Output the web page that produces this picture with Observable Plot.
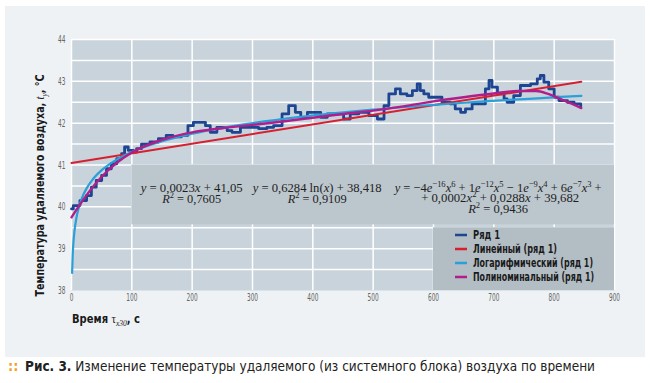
<!DOCTYPE html>
<html><head><meta charset="utf-8">
<script src="https://cdn.jsdelivr.net/npm/d3@7"></script>
<script src="https://cdn.jsdelivr.net/npm/@observablehq/plot@0.6"></script>
<style>
body{margin:0;background:#fff;width:650px;height:383px;overflow:hidden;font-family:"DejaVu Sans Condensed","DejaVu Sans",sans-serif;}
#card{position:absolute;left:5px;top:6px;width:640px;height:351px;background:#eef2f5;}
#chart{position:absolute;left:0;top:0;}
#caption{position:absolute;left:8px;top:357px;font-size:14.5px;line-height:18px;color:#222;white-space:nowrap;}
#caption .dots{color:#f0a328;font-weight:bold;margin-right:7px;}
#captext{display:inline-block;transform-origin:0 50%;}
</style></head><body>
<div id="card"></div><div id="chart"></div>
<div id="caption"><span class="dots">::</span><span id="captext"><b>Рис. 3.</b> Изменение температуры удаляемого (из системного блока) воздуха по времени</span></div>
<script>
// ---- data ----
const seriesX = [0,3,14,25,33,41,50,58,66,75,83,88,94,102,108,116,130,144,157,168,182,193,202,214,222,230,241,258,266,280,297,310,324,335,349,360,371,380,391,404,413,424,435,443,451,462,476,493,507,518,526,537,545,556,565,573,578,584,592,600,614,628,636,645,653,664,678,686,692,697,706,717,722,733,744,761,772,777,783,791,800,808,822,833,844];
const seriesY = [39.95,40.03,40.15,40.27,40.47,40.63,40.75,40.91,41.03,41.15,41.27,41.43,41.35,41.31,41.39,41.50,41.55,41.63,41.71,41.67,41.71,41.94,42.02,42.02,41.94,41.78,41.90,41.82,41.78,41.90,41.90,41.87,41.90,41.94,42.22,42.42,42.26,42.14,42.26,42.26,42.14,42.22,42.22,42.22,42.10,42.22,42.26,42.18,42.10,42.42,42.70,42.82,42.70,42.66,42.78,42.94,42.78,42.70,42.62,42.62,42.50,42.46,42.34,42.26,42.34,42.46,42.46,42.82,43.02,42.86,42.70,42.58,42.50,42.66,42.90,42.94,43.06,43.14,42.98,42.82,42.62,42.54,42.50,42.46,42.38];
const linX = [0,845];
const linY = [41.05,42.99];
const logX = [1,2,3,5,8,12,18,25,35,50,70,100,140,200,280,380,500,650,845];
const logY = [38.418,38.854,39.108,39.429,39.725,39.980,40.234,40.441,40.652,40.876,41.088,41.312,41.523,41.748,41.959,42.151,42.323,42.488,42.653];
const polyX = [0,10,25,50,75,100,150,200,250,300,350,400,450,500,550,600,650,700,740,770,790,810,830,845];
const polyY = [39.75,39.97,40.28,40.72,41.05,41.30,41.60,41.78,41.88,41.96,42.04,42.13,42.22,42.30,42.40,42.52,42.62,42.71,42.77,42.77,42.70,42.58,42.46,42.36];
const xTicks = [0,100,200,300,400,500,600,700,800,900];
const yTicks = [38,39,40,41,42,43,44];
const yGrid = [38.5,39,39.5,40,40.5,41,41.5,42,42.5,43,43.5,44];
const seriesNames = ["Ряд 1","Линейный (ряд 1)","Логарифмический (ряд 1)","Полиноминальный (ряд 1)"];
const seriesColors = ["#1d4592","#d81f2f","#2a9fd8","#b01e8c"];

const toPts = (xs, ys) => xs.map((x,i)=>({x, y: ys[i]}));
const FONT = '"DejaVu Sans Condensed","DejaVu Sans",sans-serif';
const SERIF = '"Liberation Serif","DejaVu Serif",serif';

const chart = Plot.plot({
  width: 650, height: 357,
  marginLeft: 71, marginRight: 36, marginTop: 39, marginBottom: 67,
  style: {background: "transparent", fontFamily: FONT, fontSize: "11px", color: "#666"},
  x: {domain: [0,900], ticks: xTicks, tickSize: 0, tickPadding: 3, label: null, tickFormat: d => String(d)},
  y: {domain: [38,44], ticks: yTicks, tickSize: 0, tickPadding: 6, label: null, tickFormat: d => String(d)},
  marks: [
    Plot.frame({fill: "#c8d3db", stroke: null}),
    Plot.gridX(xTicks, {stroke: "#fff", strokeOpacity: 1, strokeWidth: 1.5}),
    Plot.gridY(yGrid, {stroke: "#fff", strokeOpacity: 1, strokeWidth: 1.5}),
    Plot.rect([0], {x1: 100, x2: 900, y1: 39.57, y2: 41.0, fill: "#bcc6cd"}),
    Plot.rect([0], {x1: 600, x2: 900, y1: 38, y2: 39.5, fill: "#b3bdc4"}),
    Plot.line(toPts(seriesX, seriesY), {x: "x", y: "y", stroke: seriesColors[0], strokeWidth: 2.8, curve: "step-after"}),
    Plot.line(toPts(linX, linY), {x: "x", y: "y", stroke: seriesColors[1], strokeWidth: 2}),
    Plot.line(toPts(logX, logY), {x: "x", y: "y", stroke: seriesColors[2], strokeWidth: 2.2, curve: "monotone-x"}),
    Plot.line(toPts(polyX, polyY), {x: "x", y: "y", stroke: seriesColors[3], strokeWidth: 2.4, curve: "monotone-x"})
  ]
});
document.getElementById("chart").appendChild(chart);

const svg = d3.select(chart);
const sx = chart.scale("x"), sy = chart.scale("y");

// condense tick labels
svg.selectAll('[aria-label="x-axis tick label"] text, [aria-label="y-axis tick label"] text').each(function() {
  const n = this.textContent.length;
  this.setAttribute("textLength", n * 3.7);
  this.setAttribute("lengthAdjust", "spacingAndGlyphs");
});

// rich text helper
function rich(g, x, y, segs, opts) {
  const t = g.append("text").attr("x", x).attr("y", y)
    .attr("text-anchor", opts.anchor || "middle")
    .attr("font-family", opts.family).attr("font-size", opts.size)
    .attr("fill", opts.fill || "#222");
  if (opts.weight) t.attr("font-weight", opts.weight);
  if (opts.rotate) t.attr("transform", `rotate(${opts.rotate},${x},${y})`);
  let shift = 0;
  segs.forEach(s => {
    const ts = t.append("tspan").text(s.t);
    const target = s.sup ? -opts.size*0.38 : s.sub ? opts.size*0.25 : 0;
    if (target !== shift) { ts.attr("dy", target - shift); shift = target; }
    if (s.sup || s.sub) ts.attr("font-size", opts.size*0.68);
    if (s.i) ts.attr("font-style", "italic");
    if (s.f) ts.attr("font-family", s.f);
    if (s.w) ts.attr("font-weight", s.w);
  });
  if (opts.len) t.attr("textLength", opts.len).attr("lengthAdjust", "spacingAndGlyphs");
  return t;
}

const g = svg.append("g");
const eq = (len) => ({family: SERIF, size: 13.5, fill: "#1e1e1e", len});
const cx1 = sx.apply(200), cx2 = sx.apply(408), cx3 = sx.apply(708);
rich(g, cx1, 192, [{t:"y",i:true},{t:" = 0,0023"},{t:"x",i:true},{t:" + 41,05"}], eq(102));
rich(g, cx1, 203, [{t:"R",i:true},{t:"2",sup:true},{t:" = 0,7605"}], eq(59));
rich(g, cx2, 192, [{t:"y",i:true},{t:" = 0,6284 ln("},{t:"x",i:true},{t:") + 38,418"}], eq(129));
rich(g, cx2, 203, [{t:"R",i:true},{t:"2",sup:true},{t:" = 0,9109"}], eq(59));
rich(g, cx3, 192, [{t:"y",i:true},{t:" = −4"},{t:"e",i:true},{t:"−16",sup:true},{t:"x",i:true},{t:"6",sup:true},{t:" + 1"},{t:"e",i:true},{t:"−12",sup:true},{t:"x",i:true},{t:"5",sup:true},{t:" − 1"},{t:"e",i:true},{t:"−9",sup:true},{t:"x",i:true},{t:"4",sup:true},{t:" + 6"},{t:"e",i:true},{t:"−7",sup:true},{t:"x",i:true},{t:"3",sup:true},{t:" +"}], eq(207));
rich(g, cx3 + 2, 202, [{t:"+ 0,0002"},{t:"x",i:true},{t:"2",sup:true},{t:" + 0,0288"},{t:"x",i:true},{t:" + 39,682"}], eq(158));
rich(g, cx3, 213, [{t:"R",i:true},{t:"2",sup:true},{t:" = 0,9436"}], eq(60));

// legend
const lg = svg.append("g");
const lx = sx.apply(600) + 22;
const legLens = [27, 84, 120, 121];
seriesNames.forEach((n, i) => {
  const yy = 235 + i*14;
  lg.append("line").attr("x1", lx).attr("x2", lx + 12).attr("y1", yy).attr("y2", yy)
    .attr("stroke", seriesColors[i]).attr("stroke-width", 2.5);
  lg.append("text").attr("x", lx + 18).attr("y", yy + 4).text(n)
    .attr("text-anchor", "start")
    .attr("font-family", FONT).attr("font-weight", "bold").attr("font-size", 11.5).attr("fill", "#1a1a1a")
    .attr("textLength", legLens[i]).attr("lengthAdjust", "spacingAndGlyphs");
});

// axis titles
rich(g, 44, sy.apply(40.5), [{t:"Температура удаляемого воздуха, "},{t:"t",i:true,f:SERIF,w:"normal"},{t:"y",sub:true,i:true,f:SERIF,w:"normal"},{t:", °C"}],
  {family: FONT, size: 12.5, weight: "bold", fill: "#1a1a1a", rotate: -90, len: 222});
rich(g, 72, 323, [{t:"Время "},{t:"τ",f:SERIF,w:"normal"},{t:"x30",sub:true,i:true,f:SERIF,w:"normal"},{t:", с"}],
  {family: FONT, size: 12.5, weight: "bold", fill: "#1a1a1a", anchor: "start", len: 68});

// caption fit
const cap = document.getElementById("captext");
const w = cap.getBoundingClientRect().width;
cap.style.transform = `scaleX(${570 / w})`;
</script>
</body></html>
